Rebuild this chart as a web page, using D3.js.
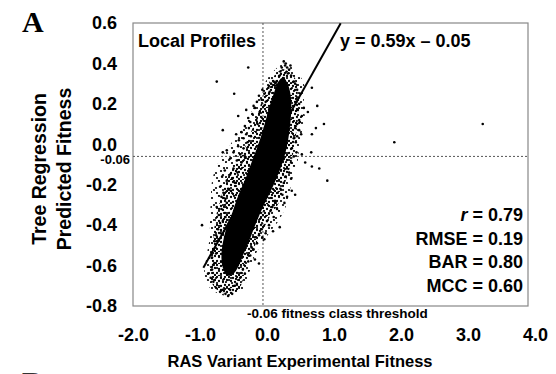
<!DOCTYPE html>
<html>
<head>
<meta charset="utf-8">
<script src="https://cdn.jsdelivr.net/npm/d3@7"></script>
<style>
  body { margin: 0; background: #fff; }
  text { font-family: "Liberation Sans", Arial, sans-serif; font-weight: bold; fill: #000; }
</style>
</head>
<body>
<figure id="scatter" style="margin:0"></figure>
<script>
// axis ticks
const xTicks = [-2, -1, 0, 1, 2, 3, 4];
const yTicks = [-0.8, -0.6, -0.4, -0.2, 0, 0.2, 0.4, 0.6];

// fitness class threshold (both axes)
const threshold = -0.06;

// regression fit y = 0.59x - 0.05, drawn over this x span
const fitSlope = 0.59;
const fitIntercept = -0.05;
const fitSpan = [-0.95, 1.10];

const statLabels = ["r", "RMSE", "BAR", "MCC"];
const statValues = ["0.79", "0.19", "0.80", "0.60"];

// cloud of variants, [experimental, predicted]
// outer edge of the sparse fringe
const fringeOutline = [
  [0.27, 0.40], [0.49, 0.34], [0.57, 0.27], [0.54, 0.19], [0.57, 0.12], [0.49, 0.02],
  [0.46, -0.08], [0.37, -0.18], [0.31, -0.28], [0.19, -0.37], [0.01, -0.45], [-0.18, -0.55],
  [-0.28, -0.65], [-0.37, -0.72], [-0.58, -0.75], [-0.78, -0.73], [-0.93, -0.67], [-0.91, -0.57],
  [-0.86, -0.47], [-0.85, -0.37], [-0.84, -0.28], [-0.82, -0.18], [-0.74, -0.10], [-0.60, -0.03],
  [-0.45, 0.05], [-0.30, 0.12], [-0.19, 0.19], [-0.08, 0.27], [0.04, 0.34]
];
// edge of the thick, speckled band
const denseOutline = [
  [0.24, 0.37], [0.43, 0.32], [0.46, 0.22], [0.46, 0.12], [0.42, 0.02], [0.37, -0.08],
  [0.28, -0.18], [0.19, -0.28], [0.04, -0.36], [-0.10, -0.45], [-0.25, -0.55], [-0.34, -0.65],
  [-0.43, -0.72], [-0.61, -0.74], [-0.78, -0.71], [-0.85, -0.65], [-0.84, -0.56], [-0.80, -0.47],
  [-0.77, -0.37], [-0.70, -0.28], [-0.61, -0.18], [-0.48, -0.10], [-0.35, -0.03], [-0.25, 0.05],
  [-0.16, 0.13], [-0.07, 0.22], [0.04, 0.31]
];
// solid black middle
const coreOutline = [
  [0.24, 0.33], [0.32, 0.29], [0.36, 0.22], [0.36, 0.15], [0.34, 0.08], [0.31, 0.01],
  [0.26, -0.06], [0.19, -0.13], [0.10, -0.20], [0.00, -0.27], [-0.10, -0.34], [-0.20, -0.42],
  [-0.28, -0.49], [-0.36, -0.55], [-0.42, -0.60], [-0.50, -0.64], [-0.59, -0.65], [-0.66, -0.61],
  [-0.68, -0.55], [-0.66, -0.49], [-0.62, -0.43], [-0.55, -0.37], [-0.48, -0.30], [-0.40, -0.23],
  [-0.31, -0.16], [-0.22, -0.08], [-0.14, -0.01], [-0.07, 0.06], [-0.01, 0.13], [0.05, 0.20],
  [0.11, 0.26], [0.17, 0.31]
];

// individual variants around and away from the cloud
const variants = [
  [0.27, 0.39], [0.19, 0.34], [0.22, 0.38], [0.28, 0.40], [0.33, 0.37], [0.36, 0.34], [0.25, 0.41],
  [0.31, 0.35], [0.14, 0.31], [0.40, 0.31], [0.12, 0.29], [0.30, 0.38], [0.35, 0.39], [0.20, 0.36],
  [-0.28, 0.38], [-0.75, 0.31], [-0.49, 0.25],
  [0.02, 0.28], [-0.04, 0.25], [-0.08, 0.22], [0.06, 0.30], [-0.02, 0.21], [0.45, 0.27], [0.47, 0.23],
  [0.44, 0.21], [0.50, 0.25], [-0.12, 0.24], [0.10, 0.31], [0.42, 0.30], [-0.15, 0.21], [0.48, 0.20],
  [0.04, 0.26], [-0.07, 0.27],
  [0.67, 0.28], [0.75, 0.19], [0.61, 0.16], [-0.43, 0.14],
  [-0.18, 0.18], [-0.22, 0.15], [-0.16, 0.12], [-0.25, 0.11], [-0.20, 0.19], [-0.28, 0.13], [-0.11, 0.16],
  [-0.14, 0.10], [0.46, 0.17], [0.48, 0.12], [0.52, 0.14], [0.45, 0.10], [0.55, 0.18], [-0.31, 0.17],
  [0.49, 0.11], [0.85, 0.10], [0.73, 0.08], [-0.66, 0.07], [0.51, 0.05], [0.67, 0.05],
  [-0.27, 0.08], [-0.31, 0.05], [-0.35, 0.03], [-0.29, 0.01], [-0.38, 0.06], [-0.33, 0.09], [-0.42, 0.02],
  [-0.24, 0.04], [-0.46, 0.05], [0.42, 0.08], [0.45, 0.04], [0.43, 0.01], [0.48, 0.07], [0.40, 0.03],
  [1.90, 0.01], [3.22, 0.10],
  [-0.35, -0.02], [-0.40, -0.05], [-0.45, -0.08], [-0.38, -0.09], [-0.50, -0.04], [-0.43, -0.01],
  [-0.55, -0.07], [-0.33, -0.06], [-0.60, -0.03], [0.37, -0.02], [0.40, -0.06], [0.36, -0.09], [0.44, -0.04],
  [0.66, -0.04], [0.52, -0.05], [0.57, -0.09], [0.67, -0.11], [0.78, -0.12], [-0.66, -0.04],
  [-0.50, -0.12], [-0.55, -0.15], [-0.60, -0.18], [-0.48, -0.19], [-0.63, -0.13], [-0.52, -0.17],
  [-0.44, -0.14], [-0.67, -0.16], [0.30, -0.12], [0.28, -0.16], [0.33, -0.14], [0.25, -0.19], [0.36, -0.17],
  [0.90, -0.18],
  [-0.58, -0.22], [-0.65, -0.24], [-0.62, -0.27], [-0.70, -0.21], [-0.60, -0.29], [-0.68, -0.26],
  [-0.54, -0.23], [0.20, -0.22], [0.23, -0.25], [0.12, -0.28], [0.16, -0.24], [0.30, -0.26], [0.37, -0.23],
  [0.42, -0.25], [0.26, -0.29],
  [-0.68, -0.32], [-0.72, -0.35], [-0.66, -0.38], [-0.75, -0.31], [-0.70, -0.39], [-0.62, -0.36],
  [0.05, -0.33], [0.10, -0.36], [0.00, -0.38], [0.08, -0.31], [0.15, -0.32], [0.19, -0.41], [0.09, -0.43],
  [-0.97, -0.40], [0.03, -0.40],
  [-0.73, -0.42], [-0.76, -0.45], [-0.78, -0.48], [-0.72, -0.47], [-0.69, -0.44], [-0.08, -0.42],
  [-0.12, -0.45], [-0.04, -0.47], [-0.15, -0.49], [-0.02, -0.44], [-0.07, -0.46], [-0.18, -0.46],
  [-0.80, -0.52], [-0.82, -0.56], [-0.79, -0.59], [-0.76, -0.54], [-0.20, -0.52], [-0.25, -0.55],
  [-0.28, -0.58], [-0.18, -0.57], [-0.12, -0.59], [-0.23, -0.51],
  [-0.82, -0.62], [-0.84, -0.66], [-0.80, -0.68], [-0.76, -0.71], [-0.70, -0.73], [-0.62, -0.74],
  [-0.55, -0.72], [-0.48, -0.70], [-0.40, -0.66], [-0.36, -0.62], [-0.45, -0.69], [-0.58, -0.75],
  [-0.66, -0.72], [-0.88, -0.64], [-0.33, -0.64], [-0.52, -0.74]
];

const width = 556, height = 374;
const plotLeft = 133, plotRight = 528, plotTop = 23, plotBottom = 306;

const svg = d3.select("figure#scatter")
  .append("svg")
  .attr("width", width)
  .attr("height", height);

// speckle textures for the overplotted cloud
const defs = svg.append("defs");
function speckle(id, size, dots, r) {
  const p = defs.append("pattern")
    .attr("id", id)
    .attr("patternUnits", "userSpaceOnUse")
    .attr("width", size).attr("height", size);
  dots.forEach(d => p.append("circle").attr("cx", d[0]).attr("cy", d[1]).attr("r", r).attr("fill", "#000"));
}
speckle("sparse", 15, [[2, 3], [9, 1], [6, 8], [13, 10], [1, 12], [11, 6], [7, 13], [4, 10], [14, 3]], 1.1);
speckle("dense", 12, [[1, 1], [5, 2], [9, 1], [3, 5], [7, 6], [11, 4], [1, 9], [5, 10], [9, 9], [11, 11], [3, 12], [8, 3]], 1.15);

const x = d3.scaleLinear().domain([-2, 4]).range([plotLeft, 535]);
const y = d3.scaleLinear().domain([-0.8, 0.6]).range([plotBottom, plotTop]);

// panel letter
svg.append("text")
  .attr("x", 22).attr("y", 32)
  .style("font-family", "'Liberation Serif', 'Times New Roman', serif")
  .style("font-size", "30px")
  .text("A");
// top of the next panel's letter, cut by the frame
svg.append("text")
  .attr("x", 22).attr("y", 392)
  .style("font-family", "'Liberation Serif', 'Times New Roman', serif")
  .style("font-size", "30px")
  .style("fill", "#333")
  .text("B");

// plot frame
svg.append("rect")
  .attr("x", plotLeft).attr("y", plotTop)
  .attr("width", plotRight - plotLeft).attr("height", plotBottom - plotTop)
  .attr("fill", "none")
  .attr("stroke", "#888")
  .attr("stroke-width", 1.2);

// threshold lines
svg.append("line")
  .attr("x1", x(threshold)).attr("x2", x(threshold))
  .attr("y1", plotTop).attr("y2", plotBottom)
  .attr("stroke", "#555").attr("stroke-dasharray", "2,2");
svg.append("line")
  .attr("x1", plotLeft).attr("x2", plotRight)
  .attr("y1", y(threshold)).attr("y2", y(threshold))
  .attr("stroke", "#555").attr("stroke-dasharray", "2,2");

// the overplotted cloud: fringe, dense band, solid middle
const area = d3.line().x(d => x(d[0])).y(d => y(d[1])).curve(d3.curveCatmullRomClosed);
[[fringeOutline, "url(#sparse)"], [denseOutline, "url(#dense)"], [coreOutline, "#000"]].forEach(([pts, fill]) => {
  svg.append("path").datum(pts).attr("d", area).attr("fill", fill);
});

// scattered variants
svg.selectAll("circle.variant")
  .data(variants)
  .enter()
  .append("circle")
  .attr("class", "variant")
  .attr("cx", d => x(d[0]))
  .attr("cy", d => y(d[1]))
  .attr("r", 1.3)
  .attr("fill", "#000");

// regression line
svg.append("line")
  .attr("x1", x(fitSpan[0])).attr("y1", y(fitSlope * fitSpan[0] + fitIntercept))
  .attr("x2", x(fitSpan[1])).attr("y2", y(fitSlope * fitSpan[1] + fitIntercept))
  .attr("stroke", "#000").attr("stroke-width", 2);

// axes
const fmt = d => d.toFixed(1);
const yAxis = svg.append("g")
  .attr("transform", "translate(" + plotLeft + ",0)")
  .call(d3.axisLeft(y).tickValues(yTicks).tickFormat(fmt).tickSize(0).tickPadding(16));
const xAxis = svg.append("g")
  .attr("transform", "translate(0," + plotBottom + ")")
  .call(d3.axisBottom(x).tickValues(xTicks).tickFormat(fmt).tickSize(0).tickPadding(22));
[xAxis, yAxis].forEach(g => {
  g.select(".domain").remove();
  g.selectAll("text")
    .attr("fill", "#000")
    .style("font-family", "'Liberation Sans', Arial, sans-serif")
    .style("font-weight", "bold")
    .style("font-size", "18px");
});

// threshold labels
function fmt2(v) { return v.toFixed(2); }
svg.append("text")
  .attr("x", 130).attr("y", y(threshold) + 8)
  .attr("text-anchor", "end")
  .style("font-size", "13px")
  .text(fmt2(threshold));
svg.append("text")
  .attr("x", x(threshold) - 16).attr("y", 318)
  .style("font-size", "13.5px")
  .text(fmt2(threshold) + " fitness class threshold");

// in-plot labels
svg.append("text")
  .attr("x", 138).attr("y", 47)
  .style("font-size", "18px")
  .text("Local Profiles");
svg.append("text")
  .attr("x", 340).attr("y", 47)
  .style("font-size", "18px")
  .text("y = " + fitSlope + "x \u2013 " + Math.abs(fitIntercept).toFixed(2));

statLabels.forEach((lab, i) => {
  const t = svg.append("text")
    .attr("x", 523).attr("y", 221 + i * 23.7)
    .attr("text-anchor", "end")
    .style("font-size", "18px");
  const l = t.append("tspan").text(lab);
  if (lab === "r") l.style("font-style", "italic");
  t.append("tspan").text(" = " + statValues[i]);
});

// axis titles
svg.append("text")
  .attr("x", 300).attr("y", 367)
  .attr("text-anchor", "middle")
  .style("font-size", "16.5px")
  .text("RAS Variant Experimental Fitness");
[["Tree Regression", 46], ["Predicted Fitness", 71]].forEach(([txt, cx]) => {
  svg.append("text")
    .attr("transform", "translate(" + cx + ",169) rotate(-90)")
    .attr("text-anchor", "middle")
    .style("font-size", "19.5px")
    .text(txt);
});
</script>
</body>
</html>
